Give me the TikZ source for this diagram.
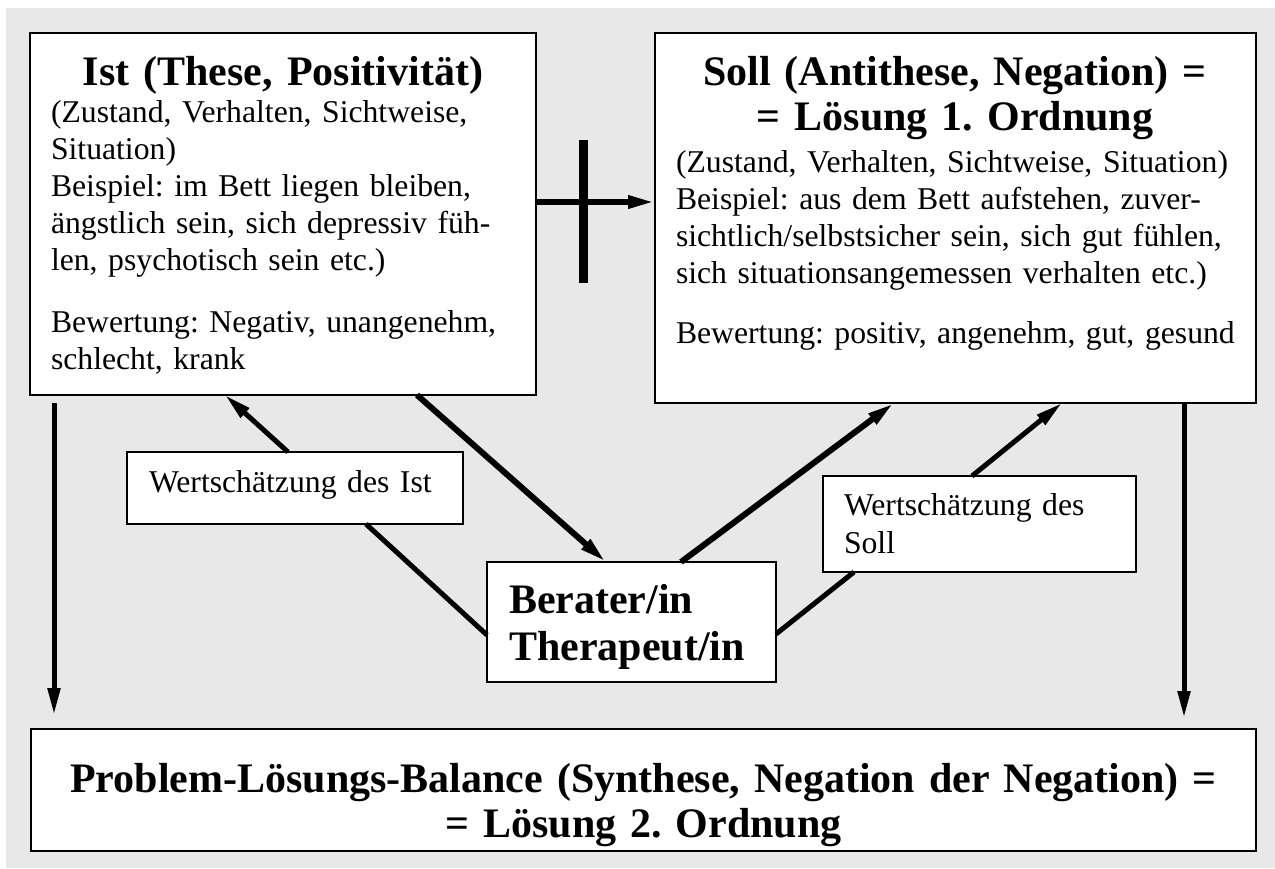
\documentclass[tikz,border=0pt]{standalone}
\usepackage{fontspec}
\setmainfont{Liberation Serif}
\usetikzlibrary{arrows.meta,calc}
\definecolor{bggray}{RGB}{232,232,232}
\frenchspacing
\begin{document}
\begin{tikzpicture}[x=1pt,y=-1pt,
  box/.style={draw=black,fill=white,line width=1.8pt,inner sep=0pt,outer sep=0pt,anchor=north west},
  body/.style={inner sep=0pt,outer sep=0pt,anchor=base west,align=left,font=\fontsize{31.7}{37}\selectfont\frenchspacing},
  ttl/.style={inner sep=0pt,outer sep=0pt,anchor=base,align=center,font=\fontsize{42}{45}\selectfont\bfseries\frenchspacing},
  tip/.style={-{Triangle[length=27pt,width=12pt]}},
  conn/.style={line width=6pt},
  lconn/.style={line width=5pt}]
\useasboundingbox (0,0) rectangle (1275,868);
\fill[white] (0,0) rectangle (1275,868);
\fill[bggray] (6,8) rectangle (1275,868);

% boxes
\node[box,minimum width=506pt,minimum height=362pt] (ist) at (30,33) {};
\node[box,minimum width=601pt,minimum height=370pt] (soll) at (655,33) {};
\node[box,minimum width=336pt,minimum height=72pt] (wist) at (127,452) {};
\node[box,minimum width=313pt,minimum height=96pt] (wsoll) at (823,476) {};
\node[box,minimum width=289pt,minimum height=120pt] (berater) at (487,562) {};
\node[box,minimum width=1225pt,minimum height=122pt] (bottom) at (31,729) {};

% texts
\node[ttl,text width=490pt] (isttitle) at (283,85) {Ist (These, Positivität)};
\node[body,text width=480pt] (istbody) at (51,122) {(Zustand, Verhalten, Sichtweise,\\
Situation)\\
Beispiel: im Bett liegen bleiben,\\
ängstlich sein, sich depressiv füh-\\
len, psychotisch sein etc.)\\[25pt]
Bewertung: Negativ, unangenehm,\\
schlecht, krank};

\node[ttl,text width=590pt] (solltitle) at (955,85) {Soll (Antithese, Negation) =\\
= Lösung 1. Ordnung};
\node[body,text width=575pt] (sollbody) at (676,172) {(Zustand, Verhalten, Sichtweise, Situation)\\
Beispiel: aus dem Bett aufstehen, zuver-\\
sichtlich/selbstsicher sein, sich gut fühlen,\\
sich situationsangemessen verhalten etc.)\\[23pt]
Bewertung: positiv, angenehm, gut, gesund};

\node[body,text width=310pt] (wisttext) at (149,492) {Wertschätzung des Ist};
\node[body,text width=285pt,font=\fontsize{31.7}{38}\selectfont] (wsolltext) at (844,515) {Wertschätzung des\\
Soll};
\node[body,text width=270pt,font=\fontsize{42}{47}\selectfont\bfseries] (beratertext) at (509,613) {Berater/in\\
Therapeut/in};
\node[ttl,text width=1210pt] (bottomtext) at (643.5,792) {Problem-Lösungs-Balance (Synthese, Negation der Negation) =\\
= Lösung 2. Ordnung};

% connectors
\draw[conn,tip] ($(ist.north east)+(0,169)$) -- ($(soll.north west)+(0,169)$);
\coordinate (crosstop) at (583,140);
\coordinate (crossbot) at (583,283);
\draw[line width=9pt] (crosstop) -- (crossbot);

\draw[lconn,tip] ($(ist.south west)+(24,8)$) -- ($(bottom.north west)+(23,-14)$);
\draw[lconn,tip] ($(soll.south west)+(529,0)$) -- ($(bottom.north west)+(1153,-11)$);

\draw[lconn,tip] ($(wist.north west)+(161,0)$) -- ($(ist.south west)+(195,0)$);
\draw[lconn] ($(wist.south west)+(239,0)$) -- ($(berater.north west)+(0,73)$);
\draw[conn,tip] ($(ist.south west)+(387,0)$) -- ($(berater.north west)+(119,0)$);
\draw[conn,tip] ($(berater.north west)+(194,0)$) -- ($(soll.south west)+(239,0)$);
\draw[lconn] ($(berater.north east)+(0,72)$) -- ($(wsoll.south west)+(31,0)$);
\draw[lconn,tip] ($(wsoll.north west)+(149,0)$) -- ($(soll.south west)+(407,0)$);
\end{tikzpicture}
\end{document}
